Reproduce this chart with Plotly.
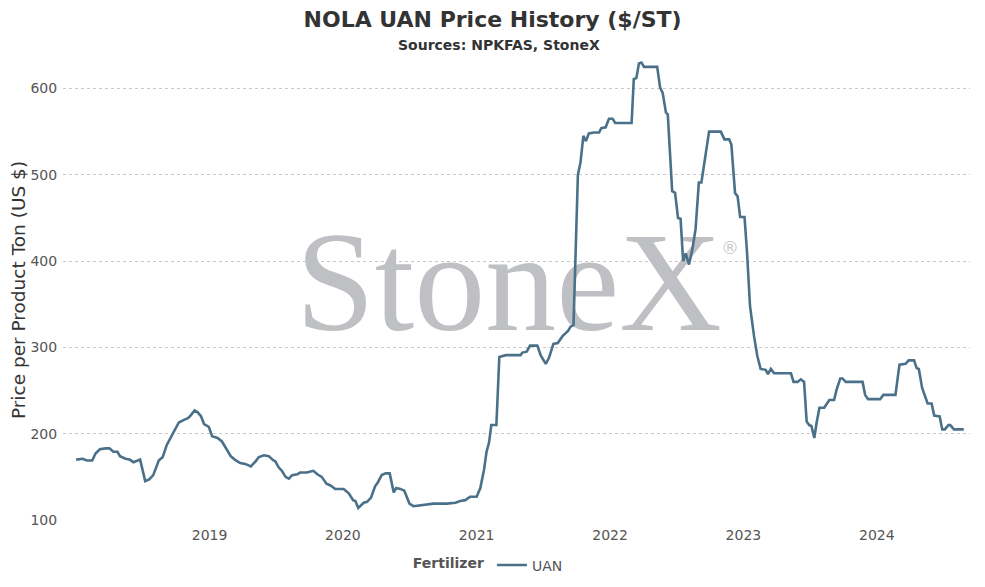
import plotly.graph_objects as go

# NOLA UAN weekly price, $/short ton
dates = [
    "2018-01-01", "2018-01-19", "2018-01-30", "2018-02-14", "2018-02-23", "2018-03-07",
    "2018-03-22", "2018-04-02", "2018-04-13", "2018-04-24", "2018-05-01", "2018-05-16",
    "2018-05-27", "2018-06-07", "2018-06-25", "2018-07-09", "2018-07-20", "2018-07-31",
    "2018-08-15", "2018-08-26", "2018-09-06", "2018-09-21", "2018-10-09", "2018-10-23",
    "2018-11-03", "2018-11-10", "2018-11-21", "2018-11-29", "2018-12-09", "2018-12-17",
    "2018-12-30", "2019-01-08", "2019-01-23", "2019-02-04", "2019-02-17", "2019-02-28",
    "2019-03-11", "2019-03-26", "2019-04-09", "2019-04-24", "2019-05-07", "2019-05-16",
    "2019-05-30", "2019-06-12", "2019-06-25", "2019-06-30", "2019-07-09", "2019-07-18",
    "2019-07-28", "2019-08-06", "2019-08-15", "2019-08-29", "2019-09-06", "2019-09-24",
    "2019-10-12", "2019-10-23", "2019-11-04", "2019-11-17", "2019-11-28", "2019-12-11",
    "2020-01-03", "2020-01-17", "2020-01-29", "2020-02-04", "2020-02-12", "2020-02-20",
    "2020-02-27", "2020-03-07", "2020-03-18", "2020-03-29", "2020-04-05", "2020-04-16",
    "2020-04-27", "2020-05-08", "2020-05-19", "2020-05-26", "2020-06-06", "2020-06-17",
    "2020-07-01", "2020-07-12", "2020-08-10", "2020-09-05", "2020-10-11", "2020-11-04",
    "2020-11-17", "2020-12-01", "2020-12-14", "2021-01-01", "2021-01-11", "2021-01-21",
    "2021-01-28", "2021-02-04", "2021-02-10", "2021-02-24", "2021-03-04", "2021-03-22",
    "2021-05-01", "2021-05-06", "2021-05-18", "2021-05-27", "2021-06-16", "2021-06-25",
    "2021-07-09", "2021-07-18", "2021-07-30", "2021-08-11", "2021-08-24", "2021-09-08",
    "2021-09-15", "2021-09-23", "2021-09-29", "2021-10-05", "2021-10-12", "2021-10-20",
    "2021-10-27", "2021-11-04", "2021-11-18", "2021-12-02", "2021-12-08", "2021-12-20",
    "2021-12-29", "2022-01-08", "2022-01-15", "2022-03-01", "2022-03-07", "2022-03-14",
    "2022-03-21", "2022-03-28", "2022-04-04", "2022-05-10", "2022-05-18", "2022-05-25",
    "2022-06-03", "2022-06-08", "2022-06-20", "2022-06-28", "2022-07-06", "2022-07-13",
    "2022-07-20", "2022-07-27", "2022-08-05", "2022-08-14", "2022-08-23", "2022-09-01",
    "2022-09-08", "2022-09-17", "2022-09-29", "2022-10-31", "2022-11-10", "2022-11-23",
    "2022-11-29", "2022-12-09", "2022-12-16", "2022-12-23", "2023-01-04", "2023-01-11",
    "2023-01-19", "2023-01-30", "2023-02-08", "2023-02-17", "2023-03-03", "2023-03-09",
    "2023-03-17", "2023-03-26", "2023-05-11", "2023-05-18", "2023-05-29", "2023-06-07",
    "2023-06-16", "2023-06-23", "2023-06-30", "2023-07-06", "2023-07-14", "2023-07-20",
    "2023-07-28", "2023-08-10", "2023-08-24", "2023-09-06", "2023-09-13", "2023-09-23",
    "2023-09-29", "2023-10-08", "2023-11-23", "2023-11-30", "2023-12-08", "2024-01-10",
    "2024-01-19", "2024-02-21", "2024-03-03", "2024-03-20", "2024-03-28", "2024-04-12",
    "2024-04-19", "2024-04-25", "2024-05-04", "2024-05-19", "2024-05-30", "2024-06-06",
    "2024-06-21", "2024-06-28", "2024-07-05", "2024-07-15", "2024-07-20", "2024-07-30",
    "2024-08-26",
]
uan = [
    170, 171, 169, 169, 177, 182,
    183, 183, 179, 179, 174, 171,
    170, 167, 170, 145, 147, 152,
    169, 173, 187, 199, 213, 216,
    218, 221, 227, 225, 220, 211,
    208, 197, 195, 191, 181, 174,
    170, 166, 165, 162, 168, 173,
    175, 174, 169, 168, 161, 157,
    150, 148, 152, 153, 155, 155,
    157, 153, 150, 142, 140, 136,
    136, 131, 123, 122, 114, 117,
    120, 121, 126, 139, 143, 152,
    154, 154, 132, 137, 136, 134,
    119, 116, 118, 119, 119, 120,
    122, 123, 127, 127, 137, 158,
    179, 190, 210, 210, 289, 291,
    291, 294, 295, 302, 302, 291,
    281, 288, 304, 305, 313, 319,
    324, 326, 413, 500, 514, 545,
    539, 548, 549, 549, 554, 555,
    565, 565, 560, 560, 611, 612,
    629, 630, 625, 625, 601, 595,
    572, 570, 481, 479, 450, 449,
    400, 409, 396, 413, 437, 491,
    491, 518, 550, 550, 541, 541,
    535, 479, 475, 451, 451, 409,
    348, 313, 290, 275, 274, 269,
    275, 270, 270, 260, 260, 263,
    260, 214, 210, 209, 195, 212,
    230, 230, 239, 239, 251, 264,
    264, 260, 260, 245, 240, 240,
    245, 245, 280, 281, 285, 285,
    276, 275, 253, 235, 235, 221,
    220, 205, 205, 210, 210, 205,
    205,
]
year_ticks = ["2019-01-01", "2020-01-01", "2021-01-01", "2022-01-01", "2023-01-01", "2024-01-01"]
year_labels = ["2019", "2020", "2021", "2022", "2023", "2024"]
price_ticks = [100, 200, 300, 400, 500, 600]

line_color = "#4a7189"
font_family = "Verdana, DejaVu Sans, sans-serif"

# page body adds an 8px margin, so the figure is drawn 8px smaller than the window
W, H = 977, 579

fig = go.Figure()

# StoneX watermark, drawn first so the price line sits on top
fig.add_trace(go.Scatter(
    x=["2021-03-30"], y=[361], mode="text", text=["StoneX"],
    textfont=dict(family="Liberation Serif, Times New Roman, serif", size=142, color="#bfc0c3"),
    showlegend=False, hoverinfo="skip",
))
fig.add_trace(go.Scatter(
    x=["2022-11-25"], y=[414], mode="text", text=["®"],
    textfont=dict(family="DejaVu Sans, sans-serif", size=18, color="#c9cacd"),
    showlegend=False, hoverinfo="skip",
))

fig.add_trace(go.Scatter(
    x=dates, y=uan, mode="lines", name="UAN",
    line=dict(color=line_color, width=2.6),
))

fig.update_layout(
    width=W, height=H,
    paper_bgcolor="white", plot_bgcolor="white",
    margin=dict(l=55, r=15, t=52, b=67, autoexpand=False),
    font=dict(family=font_family, color="#444444"),
    title=dict(
        text="<b>NOLA UAN Price History ($/ST)</b>",
        x=0.496, xanchor="center", xref="container",
        y=1 - 11 / H, yanchor="middle", yref="container",
        font=dict(family="DejaVu Sans, sans-serif", size=22, color="#333333"),
    ),
    annotations=[dict(
        text="<b>Sources: NPKFAS, StoneX</b>",
        x=0.481, xref="paper", xanchor="center",
        y=1 + 15 / 460, yref="paper", yanchor="middle",
        showarrow=False, font=dict(size=14, color="#333333"),
    )],
    legend=dict(
        orientation="h", x=0.47, xanchor="center", y=-0.064, yanchor="top",
        title=dict(text="<b>Fertilizer</b>", font=dict(size=14, color="#555555")),
        font=dict(size=14, color="#555555"),
    ),
)

fig.update_xaxes(
    type="date", range=["2017-11-26", "2024-09-12"],
    showgrid=False, zeroline=False, showline=False, automargin=False,
    tickvals=year_ticks, ticktext=year_labels,
    ticks="outside", ticklen=2, tickcolor="rgba(0,0,0,0)",
    tickfont=dict(size=14, color="#555555"),
)
fig.update_yaxes(
    range=[100, 633], tickvals=price_ticks, automargin=False,
    showgrid=True, gridcolor="#c8c8c8", griddash="dot", gridwidth=1,
    zeroline=False, showline=False,
    ticks="outside", ticklen=2, tickcolor="rgba(0,0,0,0)",
    tickfont=dict(size=14, color="#555555"),
    title=dict(text="Price per Product Ton (US $)", font=dict(size=18.5, color="#333333"), standoff=8),
)

fig.write_html("out.html")
